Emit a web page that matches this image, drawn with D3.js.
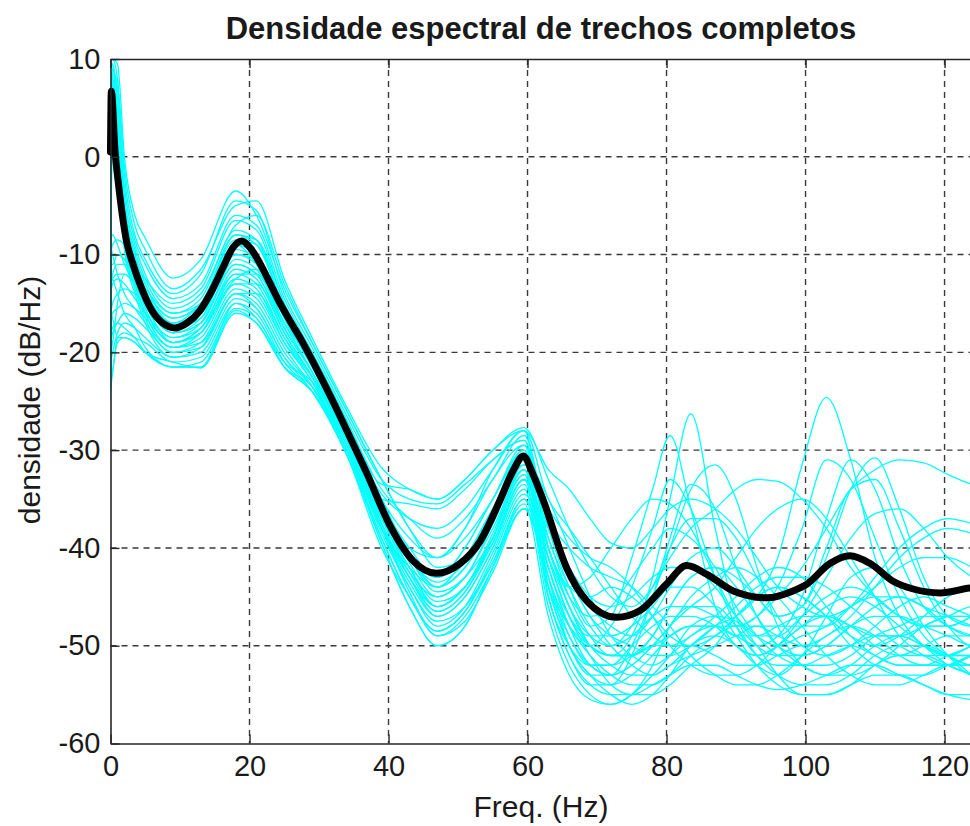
<!DOCTYPE html>
<html>
<head>
<meta charset="utf-8">
<script src="https://cdn.jsdelivr.net/npm/d3@7"></script>
<style>
  html, body { margin: 0; padding: 0; background: #fff; }
  svg { display: block; }
  text { font-family: Arial, "Liberation Sans", Helvetica, sans-serif; fill: #1a1a1a; }
</style>
</head>
<body>
<svg id="chart" width="970" height="826"></svg>
<script>
// Frequencies (Hz) at which each segment spectrum is sampled
const freqKnots = [0, 0.3, 1, 2, 3.5, 5, 9, 13, 18, 21, 25, 29, 34, 39, 43, 47, 51, 55, 59.5,
                   63, 66, 69, 72, 75, 78, 80.5, 83.5, 87, 90, 93, 96, 99.5, 103, 106.5, 110, 113.5, 117, 120.5, 124, 127];

// Spectral density (dB/Hz) of each complete segment, one row per segment
const trechos = [
  [-24, 10, 9.5, 0, -6, -8.3, -12.4, -10.5, -3.5, -6, -13.5, -19, -26, -33, -38, -41, -38, -32, -28,
   -32, -34, -37, -39.5, -40, -38, -36, -35, -36, -38, -41, -44, -46, -47, -46, -44, -42, -41, -41, -42, -43],
  [10, 10, 8, -1, -7, -9.5, -13.5, -11.5, -5, -4.5, -12.5, -18.5, -25.6, -31.8, -34, -35, -33, -30, -27.7,
   -33, -38, -42, -45, -46, -44, -41, -38, -36, -34, -33, -33.2, -35, -38, -42, -45, -47, -48, -48, -47, -46],
  [-5, 9, 7, -2, -8, -10.5, -14, -12, -4.5, -5.5, -14, -19.5, -26.5, -33, -35, -35.5, -33.5, -31, -29,
   -40, -44, -43, -40, -37, -35, -35.5, -38, -43, -47, -49, -49, -47, -45, -44, -45, -47, -48, -48, -47, -46],
  [3, 9.5, 6, -3, -8.5, -11, -14.5, -13, -6, -7, -14.5, -20, -27, -34, -37, -39, -37, -33, -28.5,
   -38, -44, -48, -47, -41, -34, -28.5, -36, -46, -50, -51, -50, -48, -47, -48, -50, -51, -50, -49, -49, -49],
  [-10, -9, -8.5, -9, -11, -12.5, -15, -13.5, -6.5, -7.5, -15, -20, -27, -35, -39, -41, -39, -35, -29.5,
   -40, -46, -50, -51, -49, -43, -35, -26.3, -38, -47, -50, -51, -51, -50, -48, -46, -45, -46, -48, -49, -50],
  [-18, 8, 5, -4, -9, -12, -15.5, -14, -7, -6, -13, -19, -26, -33, -38, -42, -41, -36, -30,
   -37, -43, -47, -50, -52, -53, -52, -50, -48, -47, -45, -41, -31.5, -24.6, -31, -41, -47, -50, -51, -51, -50],
  [7, 9, 4.5, -4.5, -9.5, -12.5, -16, -14.5, -7.5, -8.5, -15.5, -20.5, -27.5, -35.5, -40, -43, -41, -36, -30.5,
   -36, -42, -46, -48, -49, -47, -44, -41, -40, -42, -45, -47, -46, -41, -34, -30.8, -36, -43, -47, -48, -48],
  [-13, -12, -11, -11, -12, -13.5, -16, -15, -8, -9, -15.5, -20.5, -27, -35, -40.5, -44, -42, -37, -31,
   -35, -40, -45, -49, -51, -52, -51, -49, -48, -48, -47, -45, -42, -38, -34, -32, -31, -31.3, -32.5, -33.5, -34],
  [-2, 8.5, 4, -5, -10, -13, -16.5, -15, -8.5, -9, -16, -21, -28, -36, -41, -44, -42, -37.5, -31,
   -44, -50, -53, -53, -50, -45, -40, -34, -31.5, -35, -42, -48, -52, -53, -52, -50, -49, -50, -51, -51, -51],
  [-22, 7, 3, -6, -10.5, -13.5, -17, -15.5, -9, -10, -16, -21, -27.5, -36, -41.5, -45, -43, -38, -32,
   -42, -48, -52, -53, -52, -50, -48, -46, -44, -41, -38, -36, -35, -37, -41, -45, -49, -51, -52, -52, -51],
  [-16, -15, -14, -13.5, -14, -15, -17, -16, -9.5, -10.5, -16.5, -21.5, -28.5, -37, -42, -45.5, -44, -38.5, -32,
   -45, -51, -54, -55, -55, -54, -53, -52, -52, -53, -54, -54.5, -54, -53, -52, -52, -53, -54, -55, -55.5, -55],
  [5, 8, 3.5, -6.5, -11, -14, -17.5, -16, -9, -11, -17, -21, -28, -36.5, -42, -46, -44, -39, -32.5,
   -43, -50, -53, -55, -56, -55, -53, -50, -49, -50, -52, -53, -51, -47, -43, -42, -44, -48, -51, -53, -53],
  [-11, -11, -10, -10.5, -12.5, -14.5, -17.5, -16.5, -10, -10.5, -16, -20.5, -27, -33.5, -34, -35, -33, -30, -28,
   -40, -44, -45, -44, -45, -47, -49, -50, -49, -47, -45, -44, -45, -47, -49, -50, -49, -47, -45, -44, -44],
  [-8, 8, 2.5, -7, -11.5, -14.5, -18, -16.5, -10, -11, -17.5, -22, -29, -37.5, -43, -46.5, -44.5, -39.5, -33,
   -41, -47, -50, -51, -51, -50, -49, -48, -48, -49, -50, -49, -45, -37, -31, -34, -41, -46, -48, -49, -49],
  [-20, -19, -15, -12, -13, -15, -18, -17, -10.5, -11.5, -17, -22, -28.5, -35, -35.5, -36, -34, -31, -29,
   -39, -44, -48, -50, -48, -44, -40, -37, -37, -39, -43, -47, -50, -51, -50, -48, -46, -45, -46, -47, -48],
  [1, 7.5, 2, -7.5, -12, -15, -18.5, -17, -11, -12, -18, -22.5, -29.5, -38, -43.5, -47, -45, -40, -33.5,
   -44, -49, -52, -52, -50, -48, -47, -47, -48, -50, -51, -50, -47, -43, -39, -36.5, -36, -38, -41, -43, -44],
  [-14, -13, -12.5, -13, -14.5, -16, -18.5, -17.5, -11.5, -12.5, -18, -22.5, -29, -37.5, -43, -46, -44, -39, -32.5,
   -43, -48, -51, -53, -54, -54, -53, -51, -49, -48, -48, -49, -50, -49, -47, -44, -41, -39, -38, -38.5, -39],
  [-12, 7, 1.5, -8, -12.5, -15.5, -19, -17.5, -12, -12, -17.5, -22, -29, -36, -40, -41, -38, -33, -29.5,
   -37, -40, -42, -43, -44, -46, -48, -51, -53, -54, -54, -53, -51, -49, -48, -49, -51, -52, -52, -51, -50],
  [-17, -16, -15.5, -15, -15.5, -16.5, -19, -18, -12, -13, -18.5, -23, -29.5, -38.5, -44, -48, -46, -40.5, -34,
   -46, -52, -55, -56, -55, -52, -48, -46, -46, -48, -51, -53, -54, -54, -53, -51, -50, -50, -51, -53, -54],
  [-25, 6.5, 1, -8.5, -13, -16, -19.5, -18, -12.5, -13.5, -19, -23, -30, -38, -43, -46.5, -44.5, -39, -31.5,
   -38, -42, -45, -46, -45, -43, -42, -42, -44, -47, -49, -50, -49, -48, -46, -45, -45, -46, -47, -48, -49],
  [-9, -10, -12, -14, -15.5, -17, -19.5, -18.5, -13, -13, -18, -22.5, -29, -37, -41, -43, -40, -35, -30,
   -45, -50, -52, -52, -51, -49, -46, -43, -42, -43, -45, -47, -46, -40, -34, -33, -38, -44, -48, -50, -50],
  [-6, 6, 0.5, -9, -13.5, -16.5, -20, -19, -13.5, -14.5, -19.5, -23.5, -30, -39, -45, -48.5, -46.5, -41, -34.5,
   -40, -46, -49, -50, -49, -47, -46, -46, -47, -48, -47, -44, -38, -31, -33, -39, -45, -49, -51, -52, -52],
  [-19, -18, -17, -16, -16.5, -17.5, -20, -19.5, -14, -15, -20, -23.5, -30, -38, -44.5, -49, -47, -42, -35,
   -44, -48, -50, -51, -51, -50, -50, -50, -51, -52, -52, -51, -50, -50, -50, -51, -52, -52, -52, -51, -51],
  [-15, 6, 0, -9.5, -14, -17, -20.5, -19.5, -14, -15.5, -20.5, -24, -30.5, -39.5, -46, -50, -48, -42, -36,
   -42, -48, -50, -48, -44, -38, -33, -36, -43, -48, -51, -52, -52, -51, -50, -49, -49, -50, -51, -52, -52],
  [-21, -20, -18, -17, -17.5, -18.5, -20.5, -20, -14.5, -15.5, -20.5, -23.5, -29.5, -37.5, -43, -47, -45, -40, -33,
   -45, -51, -54, -54, -51, -45, -39, -33.5, -36, -42, -47, -50, -51, -50, -48, -47, -47, -48, -49, -50, -50],
  [-23, -22, -18.5, -18, -18.5, -19, -21, -20.5, -15, -16, -21, -24, -30.5, -39, -45, -48.5, -46.5, -41.5, -35,
   -41, -46, -50, -52, -53, -53, -52, -51, -50, -49, -48, -48, -48, -48, -46, -43, -40, -38, -37, -37.5, -38],
  [-3, 7, 1, -8, -12.5, -15, -19, -18, -13, -14, -19, -22.5, -29, -38, -44, -47.5, -46, -41.5, -35.5,
   -47, -53, -55.5, -56, -55, -53, -51, -48, -47, -47.5, -50, -53, -55, -55, -54, -52, -51, -51, -52, -53, -54],
  [-12, -12.5, -14, -16, -17.5, -19.5, -21.5, -21, -15.5, -16.5, -21.5, -24, -30, -38, -42, -44, -41, -36, -31.5,
   -36, -39, -41, -42, -44, -47, -50, -52, -53, -53, -52, -50, -48, -46, -45, -46, -48, -50, -52, -53, -54],
  [-18, -17.5, -17, -17.5, -18.5, -20, -21.5, -21.5, -15, -16.5, -21, -23, -29, -36.5, -41, -43, -40, -35, -30.5,
   -41, -47, -51, -54, -55, -55, -54, -52, -50, -47, -45, -44, -45, -47, -50, -52, -53, -53, -52, -51, -50],
  [-10, 6, 0, -8.5, -13, -16, -19.5, -19, -14, -14, -18.5, -22.5, -28.5, -37, -42.5, -46, -44, -39.5, -33,
   -39, -45, -49, -51, -51, -49, -46, -43, -42, -44, -47, -50, -52, -53, -53, -52, -50, -48, -47, -46, -46],
  [-24, -22, -19, -18.5, -19, -20, -21.5, -21.5, -15.7, -17, -21.5, -23.5, -30, -39.5, -46, -50, -48, -42, -36,
   -43, -49, -52, -53, -52, -50, -48, -45, -43, -42, -43, -45, -48, -51, -53, -54, -54, -53, -52, -52, -52],
  [-16, -16.5, -18.5, -18.5, -19, -20, -21, -21.6, -16, -17, -21.5, -24, -30.5, -40, -45, -49, -47.5, -42.5, -36,
   -38, -43, -47, -49, -50, -51, -51, -50, -48, -46, -44, -43, -43, -44, -46, -48, -50, -51, -51, -50, -49],
  [9, 9.5, 5, -5, -10, -13, -17, -15, -9, -10, -16.5, -21.5, -28, -36, -41, -44.5, -43, -37.5, -31,
   -44, -50, -53, -54, -53, -51, -49, -48, -48, -49, -49, -48, -47, -47, -48, -49, -49, -48, -47, -47, -47],
  [-8, -8, -9, -11, -13, -15, -18, -17, -11, -12, -17.5, -22, -28.5, -36.5, -41, -43.5, -41.5, -37, -30.5,
   -42, -47, -49, -49, -48, -46, -44, -44, -46, -49, -52, -54, -55, -55, -54, -53, -53, -54, -55, -55, -54],
  [-13, -12.5, -12, -12, -13, -14, -16.5, -15, -8, -8.5, -15, -20.5, -28, -34.5, -37, -38, -36, -32, -28,
   -35, -38, -41, -44, -47, -49, -50, -49, -47, -45, -43, -42, -43, -46, -49, -51, -52, -52, -51, -50, -49],
  [-20, 7.5, 2, -7, -12, -15.5, -19, -17.5, -12.5, -11.5, -17, -22, -29, -37.5, -42.5, -45, -43, -39, -32,
   -40, -45, -47, -46, -43, -40, -38, -39, -42, -46, -49, -51, -52, -52, -51, -49, -48, -47, -47, -47, -47]
];

// Average spectral density (dB/Hz)
const meanFreq = [0, 0.12, 0.65, 1.1, 2.3, 3.2, 4.5, 5.7, 7.5, 9.3, 11, 12.9, 14.5, 16.2, 17.6, 18.9, 20.2, 21.5,
                  23, 24.4, 26, 27.5, 30.1, 32, 34, 36.9, 40.2, 43.5, 46.9, 50.3, 53.2, 56, 58, 59.4, 60.8, 62.3,
                  65.6, 68.5, 72.8, 76.2, 80, 82.9, 85.8, 89.6, 94.4, 98.2, 100.2, 103.5, 106.4, 109.3, 112.6,
                  115.5, 119.4, 123.7, 126];
const meanDensity = [0.5, 6.7, 0.6, -2.5, -8.6, -10.9, -13.5, -15.4, -17, -17.5, -17, -15.7, -13.8, -11.3, -9.3, -8.6, -9.4, -10.9,
                     -13, -15, -17, -18.8, -22.3, -25, -28, -32.4, -37.7, -41.3, -42.6, -41.6, -39.3, -35.2, -32, -30.6, -32.5, -35.2,
                     -42, -45.4, -47.1, -46.4, -43.7, -41.8, -42.7, -44.4, -45.1, -44.4, -43.7, -41.6, -40.8, -41.6, -43.4,
                     -44.2, -44.6, -44.1, -44.0];

const xTicks = [0, 20, 40, 60, 80, 100, 120];
const yTicks = [-60, -50, -40, -30, -20, -10, 0, 10];

const width = 970, height = 826;
const plot = { left: 110.5, right: 979.3, top: 59, bottom: 743.5 };

const svg = d3.select("#chart");

const x = d3.scaleLinear().domain([0, 125]).range([plot.left, plot.right]);
const y = d3.scaleLinear().domain([-60, 10]).range([plot.bottom, plot.top]);

const defs = svg.append("defs");
defs.append("clipPath").attr("id", "plotClip")
  .append("rect")
  .attr("x", plot.left).attr("y", plot.top)
  .attr("width", plot.right - plot.left).attr("height", plot.bottom - plot.top);
defs.append("clipPath").attr("id", "meanClip")
  .append("rect")
  .attr("x", plot.left - 5).attr("y", plot.top)
  .attr("width", plot.right - plot.left + 5).attr("height", plot.bottom - plot.top);

// Dashed grid
const grid = svg.append("g").attr("class", "grid")
  .attr("stroke", "#3a3a3a").attr("stroke-width", 1.4).attr("stroke-dasharray", "6,5");
grid.selectAll("line.vx").data(xTicks.filter(d => d > 0)).join("line")
  .attr("x1", d => x(d)).attr("x2", d => x(d))
  .attr("y1", plot.top).attr("y2", plot.bottom);
grid.selectAll("line.hy").data(yTicks.filter(d => d > -60 && d < 10)).join("line")
  .attr("x1", plot.left).attr("x2", plot.right)
  .attr("y1", d => y(d)).attr("y2", d => y(d));

// Segment spectra
const line = d3.line()
  .x(d => x(d[0]))
  .y(d => y(d[1]))
  .curve(d3.curveMonotoneX);

svg.append("g").attr("clip-path", "url(#plotClip)")
  .selectAll("path").data(trechos).join("path")
  .attr("d", row => line(row.map((v, i) => [freqKnots[i], v])))
  .attr("fill", "none")
  .attr("stroke", "#00ffff")
  .attr("stroke-width", 1.3);

// Mean spectrum
svg.append("g").attr("clip-path", "url(#meanClip)")
  .append("path")
  .attr("d", line(meanFreq.map((f, i) => [f, meanDensity[i]])))
  .attr("fill", "none")
  .attr("stroke", "#000")
  .attr("stroke-width", 7)
  .attr("stroke-linejoin", "round")
  .attr("stroke-linecap", "round");

// Axes with inward ticks
const fmt = d => String(d);
const axisColor = "#262626";

function styleAxis(g) {
  g.selectAll("path.domain").attr("stroke", axisColor).attr("stroke-width", 1.6);
  g.selectAll(".tick line").attr("stroke", axisColor).attr("stroke-width", 1.4);
  g.selectAll(".tick text")
    .attr("fill", "#1a1a1a")
    .style("font-size", "29px")
    .style("font-family", "Arial, 'Liberation Sans', Helvetica, sans-serif");
}

svg.append("g")
  .attr("transform", `translate(0,${plot.bottom})`)
  .call(d3.axisBottom(x).tickValues(xTicks).tickFormat(fmt).tickSize(-9).tickSizeOuter(0).tickPadding(12))
  .call(styleAxis);

svg.append("g")
  .attr("transform", `translate(0,${plot.top})`)
  .call(d3.axisTop(x).tickValues(xTicks).tickFormat("").tickSize(-9).tickSizeOuter(0))
  .call(styleAxis);

svg.append("g")
  .attr("transform", `translate(${plot.left},0)`)
  .call(d3.axisLeft(y).tickValues(yTicks).tickFormat(fmt).tickSize(-9).tickSizeOuter(0).tickPadding(10))
  .call(styleAxis);

svg.selectAll(".tick text").attr("font-size", null);
svg.selectAll("g").attr("font-family", null).attr("font-size", null);

// Title and axis labels
svg.append("text")
  .attr("x", 541).attr("y", 39)
  .attr("text-anchor", "middle")
  .style("font-size", "31px").style("font-weight", "bold")
  .text("Densidade espectral de trechos completos");

svg.append("text")
  .attr("x", 541).attr("y", 817)
  .attr("text-anchor", "middle")
  .style("font-size", "30px")
  .text("Freq. (Hz)");

svg.append("text")
  .attr("transform", `translate(40,400) rotate(-90)`)
  .attr("text-anchor", "middle")
  .style("font-size", "30px")
  .text("densidade (dB/Hz)");
</script>
</body>
</html>
